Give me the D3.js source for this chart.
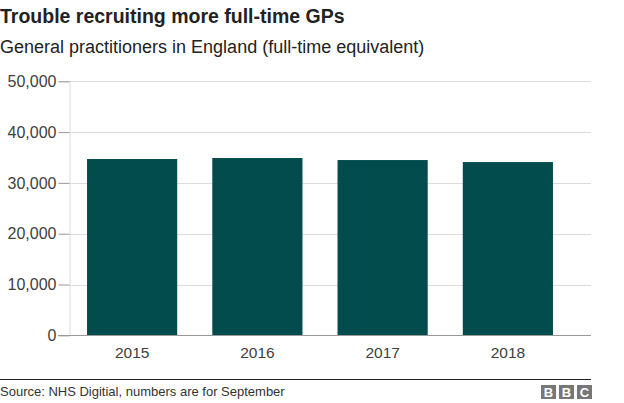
<!DOCTYPE html>
<html>
<head>
<meta charset="utf-8">
<script src="https://cdn.jsdelivr.net/npm/d3@7"></script>
<style>
  body { margin: 0; background: #fff; }
  svg { display: block; font-family: "Liberation Sans", Arial, sans-serif; }
</style>
</head>
<body>
<svg id="chart" width="624" height="403"></svg>
<script>
const title = "Trouble recruiting more full-time GPs";
const subtitle = "General practitioners in England (full-time equivalent)";
const source = "Source: NHS Digitial, numbers are for September";
const years = ["2015", "2016", "2017", "2018"];
const gps = [34700, 34900, 34500, 34100];
const yTicks = [0, 10000, 20000, 30000, 40000, 50000];

const svg = d3.select("#chart");
const plot = { left: 69, right: 591, top: 81.3, bottom: 335.3 };

svg.append("text").attr("x", 0).attr("y", 23)
  .attr("font-size", 19.5).attr("font-weight", "bold").attr("fill", "#222")
  .text(title);
svg.append("text").attr("x", 0).attr("y", 53)
  .attr("font-size", 18).attr("fill", "#222")
  .text(subtitle);

const y = d3.scaleLinear().domain([0, 50000]).range([plot.bottom, plot.top]);
const x = d3.scaleBand().domain(years).range([plot.left, 571])
  .paddingInner(0.28).paddingOuter(0.144);

// gridlines
svg.append("g").selectAll("line").data(yTicks.filter(d => d > 0)).join("line")
  .attr("x1", plot.left).attr("x2", plot.right)
  .attr("y1", d => Math.round(y(d)) + 0.5).attr("y2", d => Math.round(y(d)) + 0.5)
  .attr("stroke", "#dcdcdc").attr("stroke-width", 1);

// y axis
const yAxis = d3.axisLeft(y).tickValues(yTicks).tickSize(11).tickPadding(2)
  .tickFormat(d3.format(","));
const gy = svg.append("g").attr("transform", `translate(${plot.left + 0.5},0)`).call(yAxis);
gy.select(".domain").attr("stroke", "#dcdcdc");
gy.selectAll(".tick line").attr("stroke", "#999");
gy.selectAll(".tick text").attr("font-size", 16).attr("fill", "#404040")
  .attr("font-family", "Liberation Sans, Arial, sans-serif");

// bars
svg.append("g").selectAll("rect").data(years).join("rect")
  .attr("x", d => x(d)).attr("width", x.bandwidth())
  .attr("y", (d, i) => y(gps[i])).attr("height", (d, i) => y(0) - y(gps[i]))
  .attr("fill", "#034c4d");

// baseline
svg.append("line").attr("x1", 58).attr("x2", plot.right)
  .attr("y1", Math.round(y(0)) + 0.5).attr("y2", Math.round(y(0)) + 0.5)
  .attr("stroke", "#999");

// x axis labels
const xAxis = d3.axisBottom(x).tickSize(0).tickPadding(12);
const gx = svg.append("g").attr("transform", `translate(0,${plot.bottom})`).call(xAxis);
gx.select(".domain").remove();
gx.selectAll(".tick text").attr("font-size", 15.5).attr("fill", "#404040")
  .attr("font-family", "Liberation Sans, Arial, sans-serif");

// footer
svg.append("line").attr("x1", 0).attr("x2", plot.right).attr("y1", 379.5).attr("y2", 379.5)
  .attr("stroke", "#222").attr("stroke-width", 1);
svg.append("text").attr("x", 0).attr("y", 396)
  .attr("font-size", 13).attr("fill", "#333").text(source);

const logo = svg.append("g").attr("transform", "translate(541,385)");
["B", "B", "C"].forEach((l, i) => {
  logo.append("rect").attr("x", i * 18).attr("y", 0).attr("width", 15).attr("height", 14).attr("fill", "#777");
  logo.append("text").attr("x", i * 18 + 7.5).attr("y", 12).attr("text-anchor", "middle")
    .attr("font-size", 13).attr("font-weight", "bold").attr("fill", "#fff").text(l);
});
</script>
</body>
</html>
